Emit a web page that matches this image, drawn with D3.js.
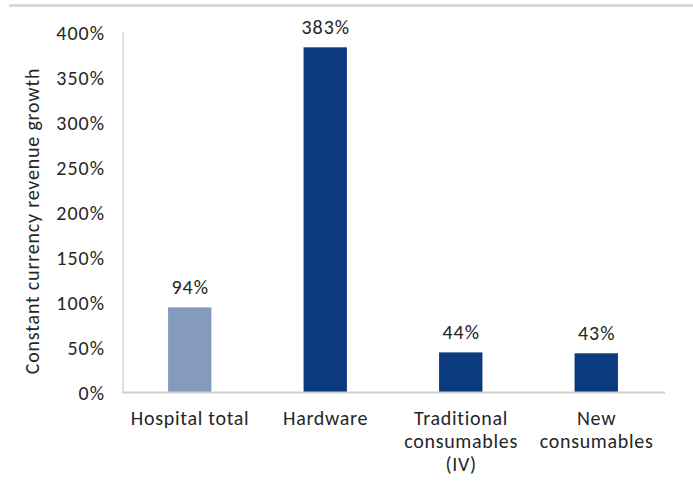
<!DOCTYPE html>
<html><head><meta charset="utf-8">
<script src="https://cdn.jsdelivr.net/npm/d3@7"></script>
<style>body{margin:0;background:#fff}svg{display:block}text{font-family:Carlito,Lato,"Open Sans",sans-serif;fill:#262626}</style>
</head><body>
<script>
const categories = [["Hospital total"], ["Hardware"], ["Traditional", "consumables", "(IV)"], ["New", "consumables"]];
const values = [94, 383, 44, 43];
const barColors = ["#849bbf", "#0b3a7e", "#0b3a7e", "#0b3a7e"];
const yTicks = [0, 50, 100, 150, 200, 250, 300, 350, 400];
const yTitle = "Constant currency revenue growth";

const W = 693, H = 481;
const FS = 20, LS = 1, CLS = 0.7;
const svg = d3.select("body").append("svg").attr("width", W).attr("height", H);
const x = d3.scaleBand().domain(d3.range(values.length)).range([122, 664]).paddingInner(0.68).paddingOuter(0.34);
const y = d3.scaleLinear().domain([0, 400]).range([392, 32]);

svg.append("rect").attr("x", 9).attr("y", 4).attr("width", W - 9).attr("height", 3).attr("fill", "#d9d9d9");

svg.selectAll("rect.bar").data(values).join("rect").attr("class", "bar")
  .attr("x", (d, i) => x(i)).attr("width", x.bandwidth())
  .attr("y", d => y(d)).attr("height", d => y(0) - y(d))
  .attr("fill", (d, i) => barColors[i]);

svg.append("line").attr("x1", 123).attr("x2", 123).attr("y1", y(400)).attr("y2", y(0)).attr("stroke", "#bfbfbf");
svg.append("line").attr("x1", 122).attr("x2", 665).attr("y1", y(0) + 0.5).attr("y2", y(0) + 0.5).attr("stroke", "#d0d0d0").attr("stroke-width", 2);

svg.selectAll("text.yt").data(yTicks).join("text").attr("class", "yt")
  .attr("x", 104 + LS).attr("y", d => y(d)).attr("dy", "0.4em").attr("text-anchor", "end")
  .attr("font-size", FS).attr("letter-spacing", LS).text(d => d + "%");

svg.selectAll("text.val").data(values).join("text").attr("class", "val")
  .attr("x", (d, i) => x(i) + x.bandwidth() / 2 + LS / 2).attr("y", d => y(d) - 13)
  .attr("text-anchor", "middle").attr("font-size", FS).attr("letter-spacing", LS).text(d => d + "%");

const cat = svg.selectAll("text.cat").data(categories).join("text").attr("class", "cat")
  .attr("text-anchor", "middle").attr("font-size", FS).attr("letter-spacing", CLS);
cat.each(function (lines, i) {
  d3.select(this).selectAll("tspan").data(lines).join("tspan")
    .attr("x", x(i) + x.bandwidth() / 2 + CLS / 2).attr("y", (l, j) => 425 + j * 23).text(l => l);
});

svg.append("text").attr("transform", `translate(39,221) rotate(-90)`)
  .attr("text-anchor", "middle").attr("font-size", 20).attr("letter-spacing", 0.8).text(yTitle);
</script>
</body></html>
